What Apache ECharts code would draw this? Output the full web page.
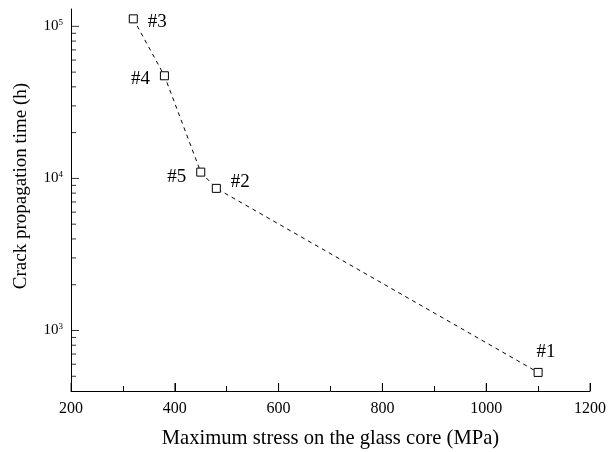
<!DOCTYPE html>
<html>
<head>
<meta charset="utf-8">
<script src="https://cdn.jsdelivr.net/npm/echarts@6/dist/echarts.min.js"></script>
<style>
  html, body { margin: 0; padding: 0; background: #fff; }
  #chart { width: 608px; height: 452px; }
</style>
</head>
<body>
<div id="chart"></div>
<script>
// Specimen labels, maximum stress (MPa) and crack propagation time (h)
const specimens = ['#3', '#4', '#5', '#2', '#1'];
const stressMPa = [320, 380, 450, 480, 1100];
const crackHours = [112000, 47300, 11000, 8600, 530];

// Where each specimen label sits relative to its marker
const labelSides = ['right', 'left', 'left', 'right', 'top'];
const labelShifts = [[0, 3], [0, 3], [0, 5], [0, -6], [8, 4]];

// Log-axis tick values: decades carry labels, 2..9 multiples are minor ticks
const decadeTicks = [1000, 10000, 100000];
const minorLogTicks = [];
[100, 1000, 10000].forEach(function (d) {
  for (let m = 2; m <= 9; m++) {
    const v = m * d;
    if (v > 400) minorLogTicks.push(v);
  }
});
const yMin = 400;
const yMax = 130000;

// Stress axis range and major tick values
const xMin = 200;
const xMax = 1200;
const xStep = 200;
const stressTicks = [200, 400, 600, 800, 1000, 1200];

const serif = 'Liberation Serif';
const black = '#000';

const points = stressMPa.map(function (x, i) {
  return {
    value: [x, crackHours[i]],
    name: specimens[i],
    label: { position: labelSides[i], offset: labelShifts[i] }
  };
});

// Inward tick marks drawn as thin rectangles anchored on the axes through the chart scales
function tickSeries(data, size, shift) {
  return {
    type: 'scatter',
    data: data,
    symbol: 'rect',
    symbolSize: size,
    symbolOffset: shift,
    itemStyle: { color: black },
    silent: true,
    clip: false,
    z: 1
  };
}

const chart = echarts.init(document.getElementById('chart'), null, { renderer: 'canvas' });

chart.setOption({
  backgroundColor: '#fff',
  animation: false,
  grid: { left: 71, right: 18, top: 9, bottom: 61, containLabel: false, outerBoundsMode: 'none' },
  xAxis: {
    type: 'value',
    min: xMin,
    max: xMax,
    interval: xStep,
    name: 'Maximum stress on the glass core (MPa)',
    nameLocation: 'middle',
    nameGap: 37,
    nameTextStyle: { fontFamily: serif, fontSize: 20.6, color: black },
    axisLine: { lineStyle: { color: black, width: 1 } },
    axisTick: { show: true, inside: true, length: 8, lineStyle: { color: black } },
    minorTick: { show: true, splitNumber: 2, length: 5, lineStyle: { color: black } },
    axisLabel: {
      fontFamily: serif, fontSize: 16, color: black, margin: 10,
      formatter: function (v) { return String(v); }
    },
    splitLine: { show: false }
  },
  yAxis: {
    type: 'log',
    logBase: 10,
    min: yMin,
    max: yMax,
    name: 'Crack propagation time (h)',
    nameLocation: 'middle',
    nameGap: 40,
    nameTextStyle: { fontFamily: serif, fontSize: 19, color: black, padding: [0, 0, 0, 28] },
    axisLine: { show: true, lineStyle: { color: black, width: 1 } },
    axisTick: { show: false },
    axisLabel: {
      customValues: decadeTicks,
      margin: 8,
      fontFamily: serif,
      fontSize: 15,
      color: black,
      formatter: function (v) {
        return '10{sup|' + Math.round(Math.log10(v)) + '}';
      },
      rich: {
        sup: { fontFamily: serif, fontSize: 9, color: black, verticalAlign: 'top', padding: [0, 0, 8, 0] }
      }
    },
    splitLine: { show: false }
  },
  series: [
    tickSeries(decadeTicks.map(function (v) { return [xMin, v]; }), [8, 1], [4, 0]),
    tickSeries(minorLogTicks.map(function (v) { return [xMin, v]; }), [5, 1], [2.5, 0]),
    tickSeries(stressTicks.map(function (v) { return [v, yMin]; }), [1, 8], [0, -4]),
    {
      type: 'line',
      data: points,
      symbol: 'rect',
      symbolSize: 8,
      z: 3,
      itemStyle: { color: '#fff', borderColor: black, borderWidth: 1 },
      lineStyle: { color: black, width: 1, type: [4, 4] },
      label: {
        show: true,
        formatter: '{b}',
        distance: 10,
        fontFamily: serif,
        fontSize: 19,
        color: black
      }
    }
  ]
});
</script>
</body>
</html>
